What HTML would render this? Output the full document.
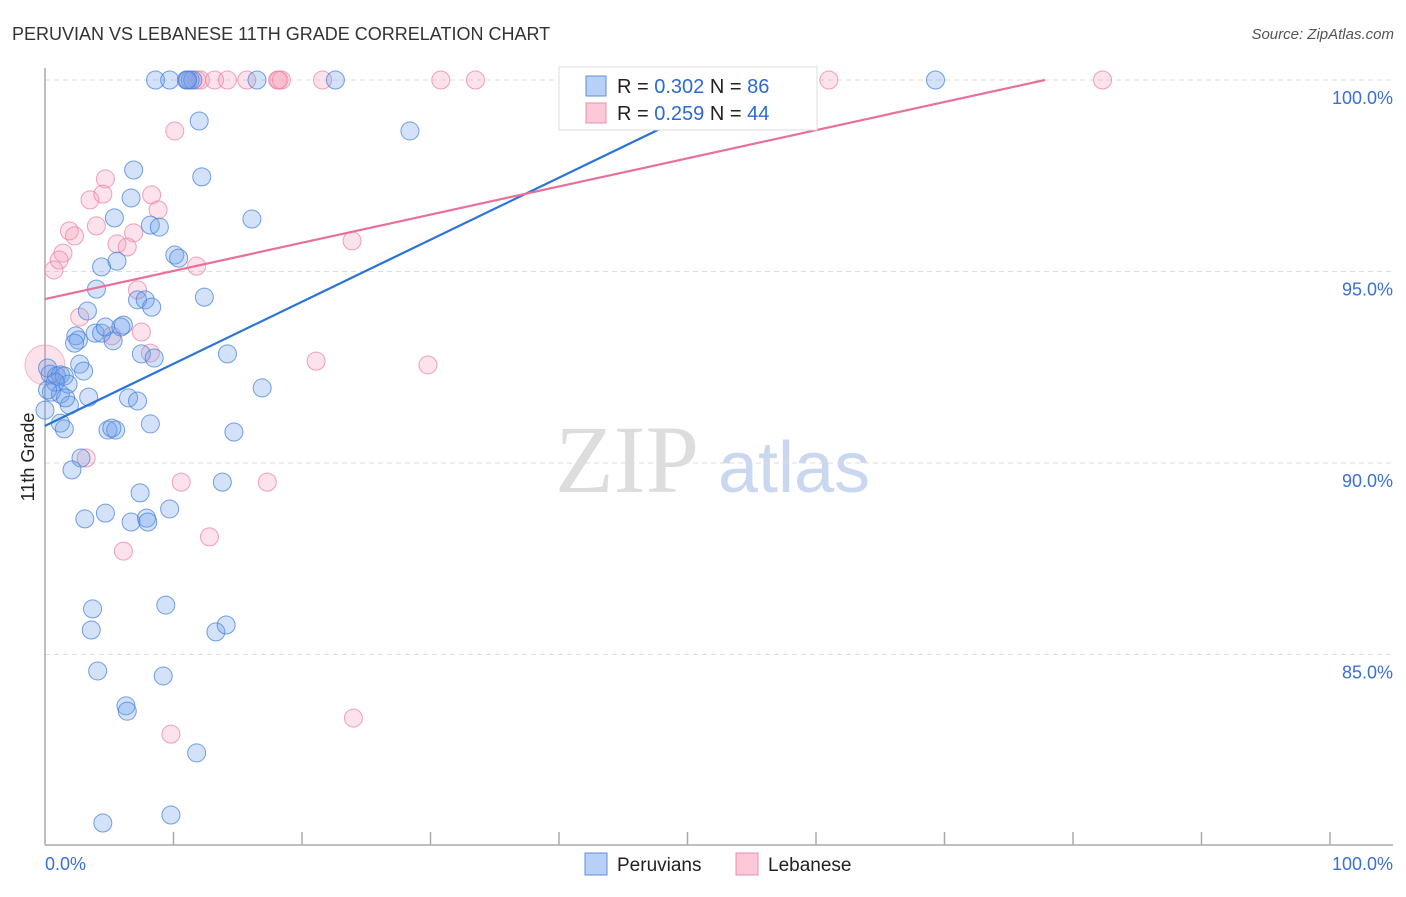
<!DOCTYPE html>
<html><head><meta charset="utf-8"><style>
body{margin:0;background:#fff;font-family:"Liberation Sans",sans-serif;}
</style></head><body>
<svg id="chart" width="1406" height="892" xmlns="http://www.w3.org/2000/svg">
<text x="12" y="40" font-size="18" fill="#333">PERUVIAN VS LEBANESE 11TH GRADE CORRELATION CHART</text>
<text x="1394" y="39" font-size="15" fill="#555" font-style="italic" text-anchor="end">Source: ZipAtlas.com</text>
<text transform="translate(34,457) rotate(-90)" font-size="18" fill="#222" text-anchor="middle">11th Grade</text>
<text x="555" y="492" font-size="96" fill="#ddd" font-family="Liberation Serif,serif">ZIP</text>
<text x="718" y="492" font-size="72" fill="#c9d8f0">atlas</text>
<g id="grid"></g><g id="axes"></g><g id="pts"></g><g id="lines"></g>
<g>
<rect x="559" y="67" width="258" height="63" fill="#fff" stroke="#ddd"/>
<rect x="586" y="76" width="20" height="20" fill="#b8d0f5" stroke="#5b8fe0"/>
<text x="617" y="93" font-size="20" fill="#222">R = <tspan fill="#2a6ad6">0.302</tspan>   N = <tspan fill="#2a6ad6">86</tspan></text>
<rect x="586" y="103" width="20" height="20" fill="#fbc9d8" stroke="#f08cac"/>
<text x="617" y="120" font-size="20" fill="#222">R = <tspan fill="#2a6ad6">0.259</tspan>   N = <tspan fill="#2a6ad6">44</tspan></text>
</g>
<g>
<rect x="585" y="853" width="22" height="22" fill="#b8d0f5" stroke="#5b8fe0"/>
<text x="617" y="871" font-size="19" fill="#222">Peruvians</text>
<rect x="736" y="853" width="22" height="22" fill="#fbc9d8" stroke="#f08cac"/>
<text x="768" y="871" font-size="19" fill="#222">Lebanese</text>
</g>
</svg>
<script>
const yTicks=[100,95,90,85];
const yTickLabels=["100.0%","95.0%","90.0%","85.0%"];
const xTickLabels=["0.0%","100.0%"];
const blueX=[8.6,9.7,11.0,11.3,11.5,11.1,16.5,22.6,69.3,12.0,28.4,6.9,12.2,6.7,5.4,16.1,8.2,8.9,4.4,5.6,10.1,10.4,4.0,7.2,7.8,8.3,12.4,3.3,2.4,2.6,2.3,3.9,4.4,4.7,6.1,5.9,5.3,7.5,8.5,14.2,2.7,3.0,0.2,0.4,0.9,1.2,1.5,0.5,1.2,1.8,0.8,3.4,1.9,1.6,6.5,7.2,16.9,1.2,1.5,8.2,4.9,5.5,5.2,14.7,2.8,2.1,7.4,3.1,4.7,6.7,7.9,8.0,9.7,3.7,3.6,9.4,13.3,14.1,4.1,9.2,6.3,6.4,11.8,4.5,9.8,13.8,0,0.2];
const blueY=[100,100,100,100,100,100,100,100,100,98.93,98.67,97.65,97.47,96.92,96.40,96.37,96.21,96.16,95.12,95.27,95.43,95.35,94.54,94.26,94.26,94.07,94.33,93.97,93.32,93.21,93.13,93.39,93.39,93.55,93.60,93.55,93.19,92.85,92.74,92.85,92.58,92.40,92.48,92.32,92.27,92.30,92.27,91.85,91.80,92.06,92.11,91.72,91.51,91.70,91.70,91.62,91.96,91.04,90.89,91.02,90.86,90.86,90.91,90.81,90.13,89.82,89.22,88.54,88.69,88.46,88.56,88.46,88.80,86.19,85.64,86.29,85.59,85.77,84.57,84.44,83.66,83.52,82.43,80.60,80.81,89.50,91.38,91.91];
const pinkX=[11.1,11.8,12.1,13.2,14.2,15.7,18.1,18.2,18.4,21.6,30.8,33.5,61.0,82.3,10.1,4.7,3.5,4.5,8.3,8.8,1.9,2.3,4.0,6.9,5.6,6.4,1.4,1.1,0.7,11.8,7.2,23.9,2.7,7.5,5.2,8.2,21.1,29.8,3.2,10.6,17.3,12.8,6.1,9.8,24.0];
const pinkY=[100,100,100,100,100,100,100,100,100,100,100,100,100,100,98.67,97.42,96.87,97.02,97.00,96.61,96.06,95.93,96.19,96.01,95.72,95.64,95.48,95.30,95.04,95.14,94.52,95.80,93.81,93.42,93.32,92.87,92.66,92.56,90.13,89.50,89.50,88.07,87.70,82.92,83.34];
const bigPink=[[0,92.56]];
const blueTrend=[90.97,0.162];
const pinkTrend=[94.28,0.0735];
const NS="http://www.w3.org/2000/svg";
const X=v=>45+v*12.85, Y=v=>80+(100-v)*38.3;
function mk(t,a,p){const e=document.createElementNS(NS,t);for(const k in a)e.setAttribute(k,a[k]);p.appendChild(e);return e;}
const g=document.getElementById('grid'),ax=document.getElementById('axes'),pts=document.getElementById('pts'),ln=document.getElementById('lines');
yTicks.forEach((t,i)=>{
 const l=mk('line',{x1:45,x2:1393,y1:Y(t),y2:Y(t),stroke:'#ddd','stroke-dasharray':'5,4'},g);
 
 
 const tx=mk('text',{x:1393,y:Y(t)+24,'font-size':18,fill:'#3b6fd4','text-anchor':'end'},ax);
 tx.textContent=yTickLabels[i];
 
 
});
const a1=mk('line',{x1:45,x2:45,y1:68,y2:845,stroke:'#aaa','stroke-width':1.5},ax);


const a2=mk('line',{x1:45,x2:1393,y1:845,y2:845,stroke:'#aaa','stroke-width':1.5},ax);


for(let i=1;i<=10;i++){const t=mk('line',{x1:X(i*10),x2:X(i*10),y1:832,y2:845,stroke:'#aaa','stroke-width':1.5},ax);
 
 }
[[0,'start'],[100,'end']].forEach((p,i)=>{const t=mk('text',{x:i?1393:45,y:870,'font-size':18,fill:'#3b6fd4','text-anchor':p[1]},ax);t.textContent=xTickLabels[i];
 
 });
bigPink.forEach(p=>{const c=mk('circle',{cx:X(p[0]),cy:Y(p[1]),r:20,fill:'rgba(240,140,170,0.25)',stroke:'rgba(240,140,170,0.6)'},pts);
 
 });
pinkX.forEach((x,i)=>{const c=mk('circle',{cx:X(x),cy:Y(pinkY[i]),r:9,fill:'rgba(245,160,185,0.3)',stroke:'rgba(236,130,165,0.75)'},pts);
 
 });
blueX.forEach((x,i)=>{const c=mk('circle',{cx:X(x),cy:Y(blueY[i]),r:9,fill:'rgba(110,160,235,0.3)',stroke:'rgba(70,130,220,0.75)'},pts);
 
 });
function trend(tr,col,name){const xe=Math.min(100,(100-tr[0])/tr[1]);
 const l=mk('line',{x1:X(0),y1:Y(tr[0]),x2:X(xe),y2:Y(tr[0]+tr[1]*xe),stroke:col,'stroke-width':2.2},ln);
 
 }
trend(blueTrend,'#2a73d9','peruvian-trendline');
trend(pinkTrend,'#e8709a','lebanese-trendline');
</script>
</body></html>
